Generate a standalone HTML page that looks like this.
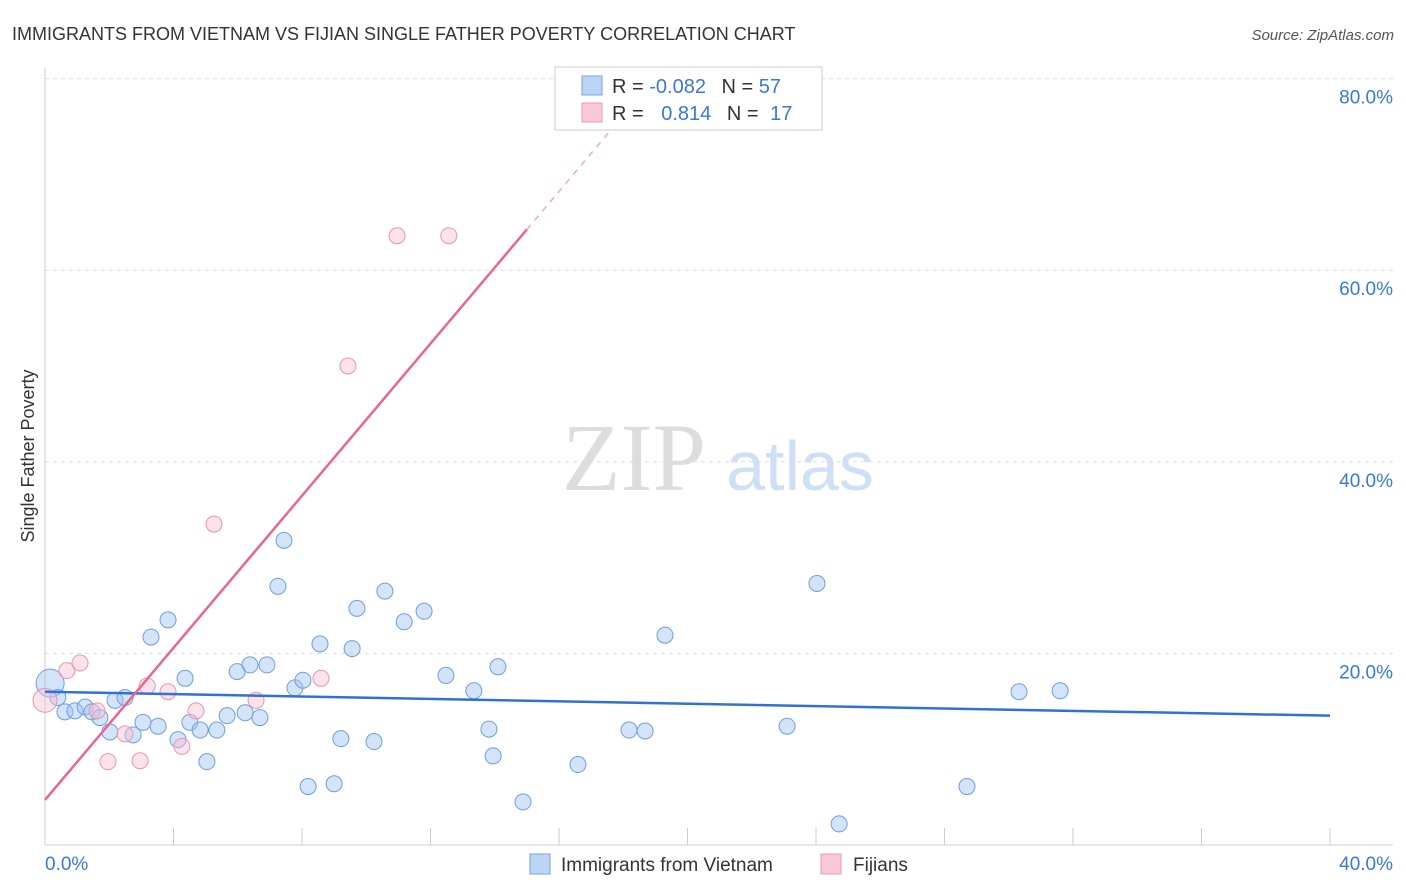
<!DOCTYPE html>
<html><head><meta charset="utf-8"><style>
body{margin:0;background:#fff;font-family:"Liberation Sans",sans-serif;}
svg{display:block}
</style></head><body>
<svg id="chart" width="1406" height="892" xmlns="http://www.w3.org/2000/svg">
<text x="12" y="40" font-size="18" fill="#333">IMMIGRANTS FROM VIETNAM VS FIJIAN SINGLE FATHER POVERTY CORRELATION CHART</text>
<text x="1394" y="40" font-size="15" fill="#555" font-style="italic" text-anchor="end">Source: ZipAtlas.com</text>
<g>
<text x="634" y="490" font-size="96" font-family="Liberation Serif,serif" fill="#ddd" text-anchor="middle">ZIP</text>
<text x="800" y="490" font-size="70" fill="#cfdff5" text-anchor="middle">atlas</text>
</g>
<g id="grid"></g><g id="axes"></g><g id="marks"></g>
<text transform="translate(34,456) rotate(-90)" font-size="18" fill="#333" text-anchor="middle">Single Father Poverty</text>
<g>
<rect x="555" y="67" width="267" height="63" fill="#fff" stroke="#ccc"/>
<rect x="582" y="76" width="20" height="19" fill="#bcd4f5" stroke="#7aa3e0"/>
<rect x="582" y="103" width="20" height="19" fill="#f9c9d7" stroke="#ec9ab4"/>
<text x="612" y="93" font-size="20" fill="#333">R = <tspan fill="#3a78d8">-0.082</tspan>  <tspan dx="10">N = </tspan><tspan fill="#3a78d8">57</tspan></text>
<text x="612" y="120" font-size="20" fill="#333">R = <tspan fill="#3a78d8" dx="12">0.814</tspan>  <tspan dx="10">N = </tspan><tspan fill="#3a78d8" dx="6">17</tspan></text>
</g>
<g>
<rect x="530" y="854" width="20" height="20" fill="#bcd4f5" stroke="#7aa3e0"/>
<text x="561" y="871" font-size="19" fill="#333">Immigrants from Vietnam</text>
<rect x="821" y="854" width="20" height="20" fill="#f9c9d7" stroke="#ec9ab4"/>
<text x="853" y="871" font-size="19" fill="#333">Fijians</text>
</g>
</svg>
<script>
const blueX=[0.16,0.40,0.62,0.93,1.25,1.46,1.71,2.02,2.18,2.49,2.74,3.05,3.30,3.52,3.83,4.14,4.36,4.51,4.83,5.04,5.35,5.67,5.98,6.23,6.38,6.69,6.91,7.25,7.44,7.78,8.03,8.19,8.56,9.00,9.21,9.56,9.71,10.24,10.58,11.18,11.80,12.48,13.35,13.82,13.95,14.10,14.88,16.59,18.18,18.68,19.30,23.10,24.03,24.72,28.70,30.32,31.60];
const blueY=[16.9,15.4,13.9,14.0,14.4,13.9,13.3,11.8,15.1,15.4,11.5,12.8,21.7,12.4,23.5,11.0,17.4,12.8,12.0,8.7,12.0,13.5,18.1,13.8,18.8,13.3,18.8,27.0,31.8,16.4,17.2,6.1,21.0,6.4,11.1,20.5,24.7,10.8,26.5,23.3,24.4,17.7,16.1,12.1,9.3,18.6,4.5,8.4,12.0,11.9,21.9,12.4,27.3,2.2,6.1,16.0,16.1];
const pinkX=[0,0.68,1.09,1.62,1.96,2.49,2.96,3.18,3.83,4.26,4.70,5.26,6.57,8.59,9.43,10.96,12.57];
const pinkY=[15.1,18.2,19.0,14.0,8.7,11.6,8.8,16.6,16.0,10.3,14.0,33.5,15.1,17.4,50.0,63.6,63.6];
const xTicks=[0,4,8,12,16,20,24,28,32,36,40];
const yTicks=[20,40,60,80];
const blueTrend=[16.0,13.5];
const pinkTrend=[4.7,3.97];
const NS='http://www.w3.org/2000/svg';
const sx=v=>45+v/40*1285, sy=v=>845-v/20*191.6;
function mk(t,a,p){const e=document.createElementNS(NS,t);for(const k in a)e.setAttribute(k,a[k]);p.appendChild(e);return e;}
const grid=document.getElementById('grid'),axes=document.getElementById('axes'),marks=document.getElementById('marks');
yTicks.forEach(v=>{const l=mk('line',{x1:45,x2:1393,y1:sy(v),y2:sy(v),stroke:'#ddd','stroke-dasharray':'4,4'},grid);

const t=mk('text',{x:1393,y:sy(v)+25,'font-size':19,fill:'#3a78d8','text-anchor':'end'},axes);t.textContent=v.toFixed(1)+'%';
});
mk('line',{x1:45,x2:45,y1:68,y2:845,stroke:'#ccc'},axes);
mk('line',{x1:45,x2:1393,y1:845,y2:845,stroke:'#ccc'},axes);
xTicks.forEach(v=>{const l=mk('line',{x1:sx(v),x2:sx(v),y1:828,y2:845,stroke:'#ccc'},axes);
});
[[0,'start',45],[40,'end',1393]].forEach(([v,a,x])=>{const t=mk('text',{x:x,y:870,'font-size':19,fill:'#3a78d8','text-anchor':a},axes);t.textContent=v.toFixed(1)+'%';
});
blueX.forEach((x,i)=>{const c=mk('circle',{cx:sx(x),cy:sy(blueY[i]),r:i==0?14:8,fill:'rgba(160,195,240,0.45)',stroke:'#6d9ee0','stroke-width':1},marks);
});
pinkX.forEach((x,i)=>{const c=mk('circle',{cx:sx(x),cy:sy(pinkY[i]),r:i==0?12:8,fill:'rgba(248,190,208,0.45)',stroke:'#eb94b0','stroke-width':1},marks);
});
let l=mk('line',{x1:sx(0),y1:sy(blueTrend[0]),x2:sx(40),y2:sy(blueTrend[1]),stroke:'#2f72d6','stroke-width':2.5},marks);

const pe=15.0;
l=mk('line',{x1:sx(0),y1:sy(pinkTrend[0]),x2:sx(pe),y2:sy(pinkTrend[0]+pinkTrend[1]*pe),stroke:'#e8668f','stroke-width':2.5},marks);

const pe2=(80-pinkTrend[0])/pinkTrend[1];
l=mk('line',{x1:sx(pe),y1:sy(pinkTrend[0]+pinkTrend[1]*pe),x2:sx(pe2),y2:sy(80),stroke:'#f0a8c0','stroke-width':1.5,'stroke-dasharray':'6,6'},marks);

</script>
</body></html>
